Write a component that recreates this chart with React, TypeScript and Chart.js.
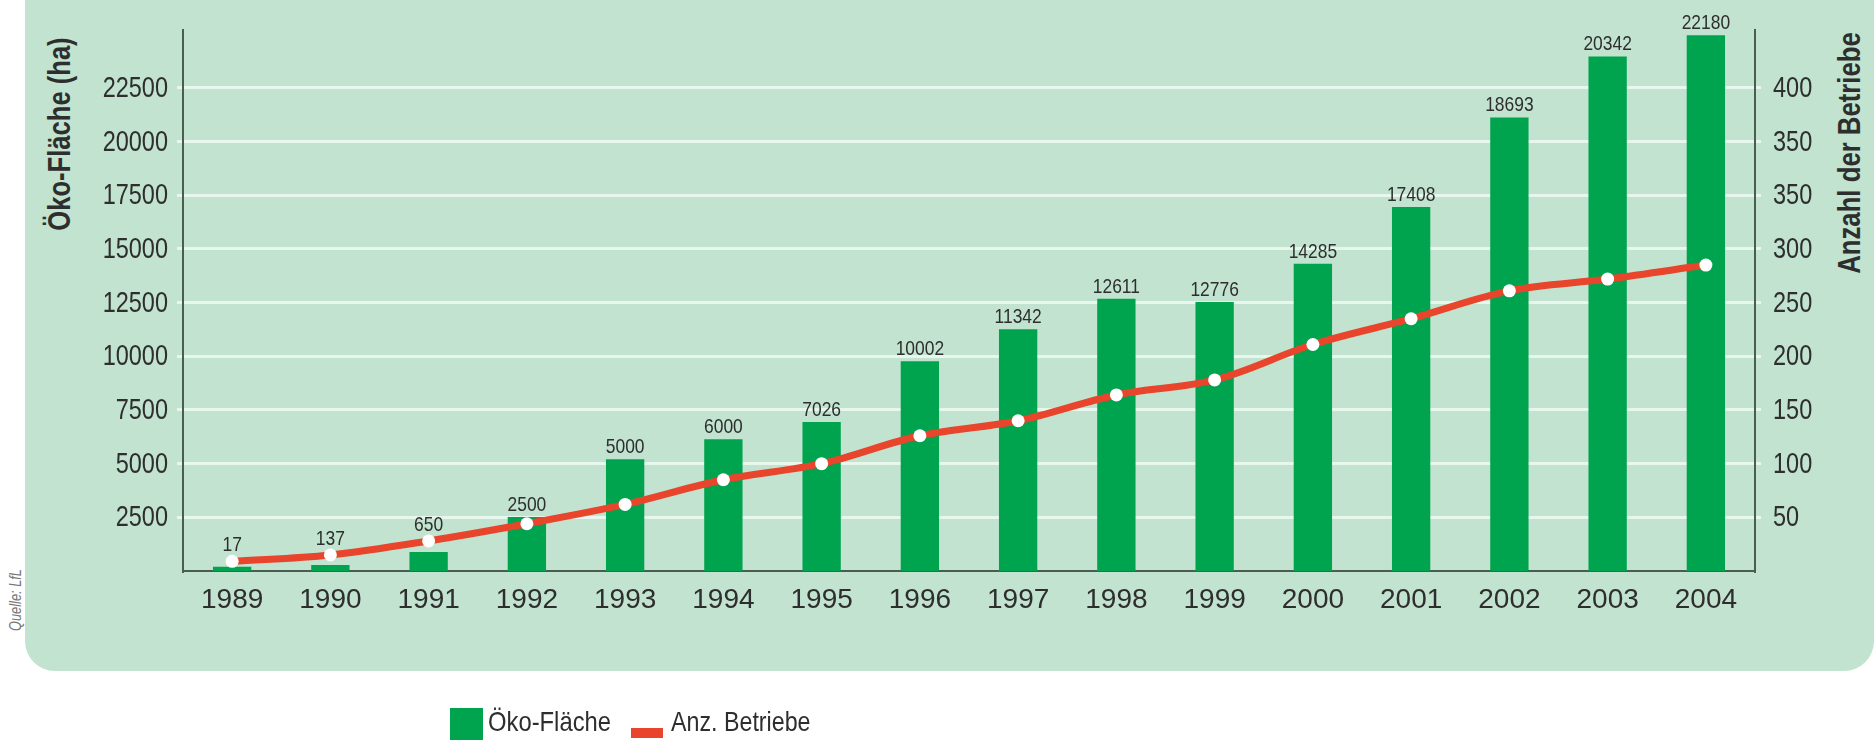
import React, { useEffect, useRef } from 'react';
import { Chart, registerables } from 'chart.js';

Chart.register(...registerables);

const YEARS = ['1989', '1990', '1991', '1992', '1993', '1994', '1995', '1996', '1997', '1998', '1999', '2000', '2001', '2002', '2003', '2004'];
const AREA_HA = [200, 280, 880, 2510, 5210, 6140, 6940, 9770, 11260, 12680, 12530, 14310, 16950, 21130, 23970, 24960];
const AREA_LABELS = ['17', '137', '650', '2500', '5000', '6000', '7026', '10002', '11342', '12611', '12776', '14285', '17408', '18693', '20342', '22180'];
const FARMS = [9, 15, 28, 44, 62, 85, 100, 126, 140, 164, 178, 211, 235, 261, 272, 285];
const LEFT_TICKS = [2500, 5000, 7500, 10000, 12500, 15000, 17500, 20000, 22500];
const LEFT_TICK_LABELS = ['2500', '5000', '7500', '10000', '12500', '15000', '17500', '20000', '22500'];
const RIGHT_TICKS = [50, 100, 150, 200, 250, 300, 350, 400, 450];
const RIGHT_TICK_LABELS = ['50', '100', '150', '200', '250', '300', '350', '350', '400'];
const LEFT_MAX = 25200;
const RIGHT_PER_LEFT = 50 / 2500;

const SANS = "'Liberation Sans', Arial, Helvetica, sans-serif";
const GREEN = '#00a34e';
const RED = '#e8452c';
const PANEL = '#c1e3cf';
const GRID = '#e8f7ee';
const AXIS = '#4b5d50';
const TEXT = '#2e2e2e';
const SQUEEZE = 0.81;

function squeezedText(ctx: CanvasRenderingContext2D, text: string, x: number, y: number, align: CanvasTextAlign, sx: number) {
  ctx.save();
  ctx.translate(x, y);
  ctx.scale(sx, 1);
  ctx.textAlign = align;
  ctx.fillText(text, 0, 0);
  ctx.restore();
}

const condensedLabels = {
  id: 'condensedLabels',
  afterDatasetsDraw(chart: any) {
    const ctx: CanvasRenderingContext2D = chart.ctx;
    const bars = chart.getDatasetMeta(0).data;
    const points = chart.getDatasetMeta(1).data;
    ctx.save();
    ctx.fillStyle = TEXT;
    ctx.font = `21px ${SANS}`;
    ctx.textBaseline = 'alphabetic';
    bars.forEach((bar: any, i: number) => {
      const top = Math.min(bar.y, points[i] ? points[i].y - 4 : bar.y);
      squeezedText(ctx, AREA_LABELS[i], bar.x, top - 6, 'center', 0.83);
    });
    ctx.restore();
  },
  afterDraw(chart: any) {
    const ctx: CanvasRenderingContext2D = chart.ctx;
    const y = chart.scales.y;
    const y2 = chart.scales.y2;
    ctx.save();
    ctx.fillStyle = TEXT;
    ctx.font = `29px ${SANS}`;
    ctx.textBaseline = 'middle';
    LEFT_TICKS.forEach((v, i) => {
      squeezedText(ctx, LEFT_TICK_LABELS[i], y.right - 15, y.getPixelForValue(v) + 1, 'right', SQUEEZE);
    });
    RIGHT_TICKS.forEach((v, i) => {
      squeezedText(ctx, RIGHT_TICK_LABELS[i], y2.left + 18, y2.getPixelForValue(v) + 1, 'left', SQUEEZE);
    });
    ctx.restore();
  },
};

export default function App() {
  const canvasRef = useRef<HTMLCanvasElement | null>(null);

  useEffect(() => {
    if (!canvasRef.current) return;
    const chart = new Chart(canvasRef.current, {
      type: 'bar',
      data: {
        labels: YEARS,
        datasets: [
          {
            type: 'bar',
            label: 'Öko-Fläche',
            data: AREA_HA,
            backgroundColor: GREEN,
            yAxisID: 'y',
            categoryPercentage: 1,
            barPercentage: 0.39,
            order: 2,
          } as any,
          {
            type: 'line',
            label: 'Anz. Betriebe',
            data: FARMS,
            borderColor: RED,
            borderWidth: 7,
            tension: 0.35,
            pointRadius: 6.5,
            pointBackgroundColor: '#ffffff',
            pointBorderWidth: 0,
            yAxisID: 'y2',
            order: 1,
          } as any,
        ],
      },
      options: {
        animation: false,
        responsive: true,
        maintainAspectRatio: false,
        layout: { padding: { top: 30, left: 0, right: 0, bottom: 0 } },
        plugins: {
          legend: { display: false },
          tooltip: { enabled: false },
        },
        scales: {
          x: {
            grid: { display: false, drawTicks: false },
            border: { display: true, color: AXIS, width: 2 },
            ticks: { font: { family: SANS, size: 28 }, color: TEXT, padding: 12 },
            afterFit: (s: any) => { s.height = 170; },
          },
          y: {
            position: 'left',
            min: 0,
            max: LEFT_MAX,
            afterBuildTicks: (s: any) => { s.ticks = LEFT_TICKS.map((v) => ({ value: v })); },
            grid: { color: GRID, lineWidth: 3, tickLength: 6 },
            border: { color: AXIS, width: 2 },
            ticks: { display: false },
            afterFit: (s: any) => { s.width = 183; },
          },
          y2: {
            position: 'right',
            min: 0,
            max: LEFT_MAX * RIGHT_PER_LEFT,
            afterBuildTicks: (s: any) => { s.ticks = RIGHT_TICKS.map((v) => ({ value: v })); },
            grid: { drawOnChartArea: false, color: GRID, lineWidth: 3, tickLength: 6 },
            border: { color: AXIS, width: 2 },
            ticks: { display: false },
            afterFit: (s: any) => { s.width = 121; },
          },
        } as any,
      },
      plugins: [condensedLabels],
    });
    return () => chart.destroy();
  }, []);

  const rotated = (left: number, top: number, scale: number): React.CSSProperties => ({
    position: 'absolute',
    left,
    top,
    transform: `translate(-50%, -50%) rotate(-90deg) scaleX(${scale})`,
    whiteSpace: 'nowrap',
    lineHeight: 1,
  });

  return (
    <div style={{ position: 'fixed', left: 0, top: 0, width: 1876, height: 741, background: '#ffffff', overflow: 'hidden' }}>
      <div style={{ position: 'absolute', left: 25, top: -40, width: 1849, height: 711, background: PANEL, borderRadius: 30 }} />
      <div style={{ ...rotated(16, 600, 0.8), font: `italic 16px ${SANS}`, color: '#777' }}>Quelle: LfL</div>
      <div style={{ ...rotated(60, 134, 0.825), font: `bold 31px ${SANS}`, color: TEXT }}>Öko-Fläche (ha)</div>
      <div style={{ ...rotated(1850, 153, 0.83), font: `bold 31px ${SANS}`, color: TEXT }}>Anzahl der Betriebe</div>
      <div style={{ position: 'absolute', left: 0, top: 0, width: 1876, height: 741 }}>
        <canvas ref={canvasRef} />
      </div>
      <div style={{ position: 'absolute', left: 450, top: 708, width: 33, height: 32, background: GREEN }} />
      <div style={{ position: 'absolute', left: 488, top: 704, font: `28px ${SANS}`, color: TEXT, whiteSpace: 'nowrap', transform: 'scaleX(0.85)', transformOrigin: 'left center', lineHeight: '36px' }}>Öko-Fläche</div>
      <div style={{ position: 'absolute', left: 631, top: 728, width: 32, height: 10, background: RED }} />
      <div style={{ position: 'absolute', left: 671, top: 704, font: `28px ${SANS}`, color: TEXT, whiteSpace: 'nowrap', transform: 'scaleX(0.83)', transformOrigin: 'left center', lineHeight: '36px' }}>Anz. Betriebe</div>
    </div>
  );
}
